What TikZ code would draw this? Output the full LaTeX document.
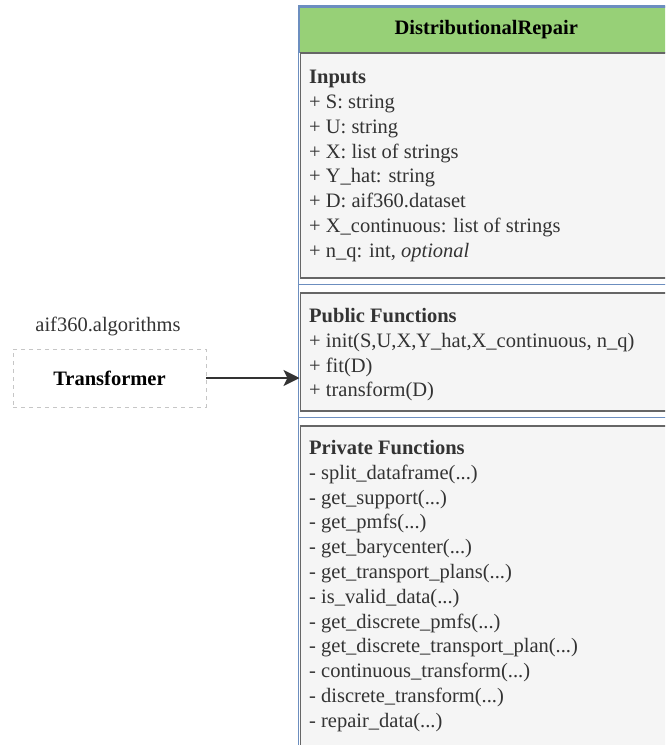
\documentclass[tikz,border=0pt]{standalone}
\usepackage{fontspec}
\setmainfont{Liberation Serif}
\usetikzlibrary{arrows.meta,positioning}
\definecolor{hdrgreen}{HTML}{97D077}
\definecolor{hdrblue}{HTML}{6C8EBF}
\definecolor{secfill}{HTML}{F5F5F5}
\definecolor{secline}{HTML}{666666}
\definecolor{txtgray}{HTML}{333333}
\newcommand{\umlfont}{\fontsize{20.5}{24.8}\selectfont}
\tikzset{
	every node/.style={font=\umlfont},
	header/.style={draw=hdrblue,fill=hdrgreen,line width=1.5pt,minimum width=374pt,minimum height=45.5pt,anchor=north west,inner sep=0pt,font=\umlfont\bfseries},
	section/.style={draw=secline,fill=secfill,line width=1.5pt,minimum width=374pt,anchor=north west,inner sep=0pt},
	members/.style={align=left,anchor=north west,text=txtgray,inner sep=0pt},
	sepline/.style={draw=hdrblue,line width=1.5pt},
	parent/.style={draw=gray!45,dashed,dash pattern=on 4pt off 4pt,minimum width=193pt,minimum height=58pt,font=\umlfont\bfseries},
	inherit/.style={-{Stealth[length=16pt,width=16pt,inset=4pt]},line width=2pt,draw=black!80}
}

\begin{document}
\begin{tikzpicture}[x=1pt,y=-1pt]
	\useasboundingbox (0,0) rectangle (665,745);
	\clip (0,0) rectangle (665,745);
	% class box
	\draw[sepline,fill=white] (298.5,6) rectangle (672.5,800);
	\node[header] (title) at (298.5,6) {DistributionalRepair};
	\node[section,minimum height=225pt] (inputs) at (299.5,52) {};
	\node[section,minimum height=118pt] (pubfn) at (299.5,292) {};
	\node[section,minimum height=400pt] (privfn) at (299.5,425) {};
	\coordinate (sepa) at (298.5,284.5);
	\coordinate (sepb) at (298.5,417.5);
	\draw[sepline] (sepa) -- ++(374,0);
	\draw[sepline] (sepb) -- ++(374,0);
	\node[members] (inputstxt) at (309,70) {\textbf{Inputs}\\
		+ S: string\\
		+ U: string\\
		+ X: list of strings\\
		+ Y\_hat: string\\
		+ D: aif360.dataset\\
		+ X\_continuous: list of strings\\
		+ n\_q: int, \textit{optional}};
	\node[members] (pubfntxt) at (309,308) {\textbf{Public Functions}\\
		+ init(S,U,X,Y\_hat,X\_continuous, n\_q)\\
		+ fit(D)\\
		+ transform(D)};
	\node[members] (privfntxt) at (309,440) {\textbf{Private Functions}\\
		- split\_dataframe(...)\\
		- get\_support(...)\\
		- get\_pmfs(...)\\
		- get\_barycenter(...)\\
		- get\_transport\_plans(...)\\
		- is\_valid\_data(...)\\
		- get\_discrete\_pmfs(...)\\
		- get\_discrete\_transport\_plan(...)\\
		- continuous\_transform(...)\\
		- discrete\_transform(...)\\
		- repair\_data(...)};
	% parent class
	\node[parent] (trans) at (109.5,378) {Transformer};
	\node[text=txtgray] (pkg) at (108,326) {aif360.algorithms};
	\draw[inherit] (trans.east) -- (trans.east -| pubfn.west);
\end{tikzpicture}
\end{document}
